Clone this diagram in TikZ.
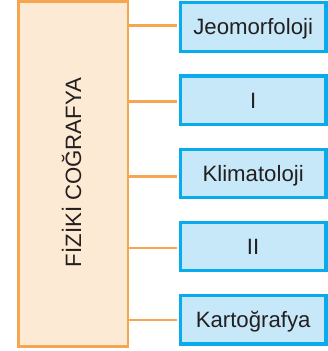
\documentclass[tikz,border=0pt]{standalone}
\usepackage{fontspec}
\setmainfont{Liberation Sans}
\definecolor{orline}{RGB}{246,166,80}
\definecolor{orfill}{RGB}{253,234,212}
\definecolor{blline}{RGB}{8,172,236}
\definecolor{blfill}{RGB}{199,232,248}
\definecolor{txt}{RGB}{35,31,32}
\tikzset{
  mainbox/.style={draw=orline, fill=orfill, line width=2.8pt, rectangle, inner sep=0pt,
    minimum width=109.5pt, minimum height=345.2pt},
  maintext/.style={rotate=90, inner sep=0pt, text height=15.8pt, text depth=0pt,
    text=txt, font=\fontsize{22.2}{26}\selectfont},
  leafbox/.style={draw=blline, fill=blfill, line width=3.2pt, rectangle, inner sep=0pt,
    minimum width=145.7pt, minimum height=48.4pt, text height=15.8pt, text depth=0pt,
    text=txt, font=\fontsize{22.2}{26}\selectfont},
  conn/.style={draw=orline, line width=2.9pt}
}
\begin{document}
\begin{tikzpicture}[x=1pt,y=1pt]
\useasboundingbox (0,0) rectangle (328,351);
\node[mainbox] (main) at (73.25,177.1) {};
\node[maintext] (maintitle) at (73.25,178.5) {FİZİKİ COĞRAFYA};
\node[leafbox] (b1) at (253.15,324.0) {Jeomorfoloji};
\node[leafbox] (b2) at (253.15,250.8) {I};
\node[leafbox] (b3) at (253.15,177.6) {Klimatoloji};
\node[leafbox] (b4) at (253.15,104.4) {II};
\node[leafbox] (b5) at (253.15,31.2) {Kartoğrafya};
\coordinate (c1) at ([yshift=1.2pt]b1.west);
\coordinate (c2) at ([yshift=-1.0pt]b2.west);
\coordinate (c3) at ([yshift=-3.3pt]b3.west);
\coordinate (c4) at ([yshift=-1.4pt]b4.west);
\coordinate (c5) at ([yshift=-0.2pt]b5.west);
\foreach \c in {c1,c2,c3,c4,c5}{
  \draw[conn] (main.east |- \c) -- ([xshift=-1.5pt]\c);
}
\end{tikzpicture}
\end{document}
